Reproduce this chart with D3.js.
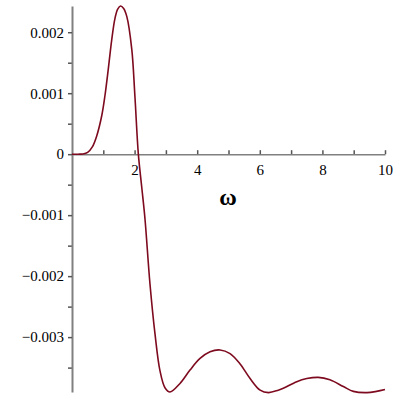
<!DOCTYPE html>
<html>
<head>
<meta charset="utf-8">
<script src="https://cdn.jsdelivr.net/npm/d3@7"></script>
<style>
  body { margin: 0; background: #fff; }
</style>
</head>
<body>
<div id="plot"></div>
<script>
// values
const omega = [0, 0.2, 0.35, 0.5, 0.65, 0.79, 0.95, 1.05, 1.16, 1.27, 1.37, 1.46, 1.55, 1.65, 1.75, 1.91, 2.01, 2.12,
  2.23, 2.33, 2.49, 2.65, 2.81, 2.97, 3.13, 3.45, 3.77, 4.09, 4.41, 4.73, 5.05, 5.37, 5.69, 6.01, 6.28,
  6.59, 6.75, 7.18, 7.5, 7.87, 8.24, 8.67, 8.99, 9.42, 9.73, 10];
const value = [0, 0, 0.000004, 0.00003, 0.00012, 0.00030, 0.00063, 0.00095, 0.00140, 0.00188, 0.00222, 0.00238, 0.00243, 0.00239, 0.00226, 0.00172, 0.00095, 0,
  -0.00055, -0.00105, -0.00212, -0.00294, -0.00355, -0.00383, -0.0039, -0.00376, -0.00354, -0.00335, -0.00324, -0.00321, -0.00327, -0.00344, -0.00368, -0.00387, -0.00391,
  -0.00387, -0.00384, -0.00373, -0.00368, -0.00366, -0.0037, -0.00381, -0.00389, -0.00391, -0.00389, -0.00386];
const xTicks = [2, 4, 6, 8, 10];
const yTicks = [-0.003, -0.002, -0.001, 0, 0.001, 0.002];

const w = 400, h = 400;
const serif = "'Liberation Serif', 'Times New Roman', serif";
const svg = d3.select("#plot").append("svg").attr("width", w).attr("height", h);

const x = d3.scaleLinear().domain([0, 10]).range([72, 385]);
const y = d3.scaleLinear().domain([-0.0039, 0.00243]).range([392, 6]);

const fmt = d => d === 0 ? "0" : (d < 0 ? "\u2212" : "") + Math.abs(d).toFixed(3);

// minor ticks
svg.append("g")
    .attr("transform", `translate(0,${y(0)})`)
    .call(d3.axisTop(x).tickValues(d3.range(1, 10, 2)).tickSize(4).tickFormat("").tickSizeOuter(0))
    .call(g => g.select(".domain").remove())
    .selectAll("line").attr("stroke", "#555").attr("stroke-width", 1.5);

svg.append("g")
    .attr("transform", `translate(${x(0)},0)`)
    .call(d3.axisLeft(y).tickValues([-0.0035, -0.0025, -0.0015, -0.0005, 0.0005, 0.0015]).tickSize(4).tickFormat("").tickSizeOuter(0))
    .call(g => g.select(".domain").remove())
    .selectAll("line").attr("stroke", "#555").attr("stroke-width", 1.5);

// x axis
const xg = svg.append("g")
    .attr("transform", `translate(0,${y(0)})`)
    .call(d3.axisBottom(x).tickValues(xTicks).tickSize(0).tickPadding(8).tickSizeOuter(0))
    .attr("font-family", serif).attr("font-size", 15);
xg.select(".domain").attr("stroke", "#808080").attr("stroke-width", 1.6);
xg.selectAll(".tick").append("line").attr("y2", -4).attr("stroke", "#555").attr("stroke-width", 1.5);
xg.selectAll(".tick text").attr("dy", "0.85em");

// y axis
const yg = svg.append("g")
    .attr("transform", `translate(${x(0)},0)`)
    .call(d3.axisLeft(y).tickValues(yTicks).tickSize(4).tickPadding(4).tickFormat(fmt).tickSizeOuter(0))
    .attr("font-family", serif).attr("font-size", 15);
yg.select(".domain").attr("stroke", "#808080").attr("stroke-width", 2);
yg.selectAll(".tick line").attr("stroke", "#555").attr("stroke-width", 1.5);

// axis label
svg.append("text")
    .attr("x", 228).attr("y", 205)
    .attr("text-anchor", "middle")
    .attr("font-family", serif)
    .attr("font-size", 24)
    .attr("font-weight", "bold")
    .text("ω");

// curve
const line = d3.line()
    .x((d, i) => x(omega[i]))
    .y(d => y(d))
    .curve(d3.curveCatmullRom.alpha(0.5));

svg.append("path")
    .datum(value)
    .attr("d", line)
    .attr("fill", "none")
    .attr("stroke", "#7d0a1e")
    .attr("stroke-width", 1.6);
</script>
</body>
</html>
